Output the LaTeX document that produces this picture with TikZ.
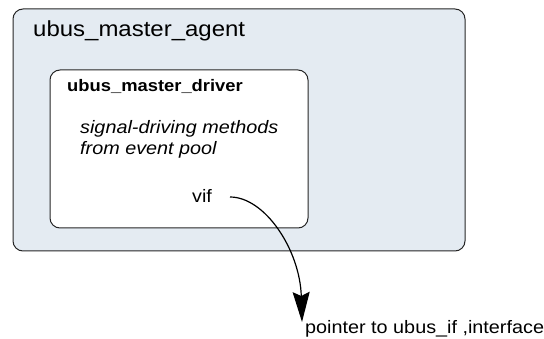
\documentclass[tikz,border=0pt]{standalone}
\usepackage{fontspec}
\setmainfont{Liberation Sans}[FakeStretch=1.1]
\usepackage{tikz}
\usetikzlibrary{arrows.meta}
\definecolor{agentblue}{RGB}{228,235,242}
\tikzset{
  box/.style={draw=black!85, line width=1pt, rounded corners=10pt},
  lbl/.style={anchor=base west, inner sep=0pt},
  body/.style={lbl, font=\fontsize{18}{21}\selectfont},
}

\begin{document}
\begin{tikzpicture}[x=1pt, y=-1pt]
            \useasboundingbox (0,0) rectangle (544,339);
            \draw[box, fill=agentblue] (13,9) rectangle (465,251);
            \draw[box, fill=white] (50,70) rectangle (308,228);
            \node[lbl, font=\fontsize{21.8}{26}\selectfont] (agent) at (33,37) {ubus\_master\_agent};
            \node[lbl, font=\fontsize{16.7}{20}\selectfont\bfseries] (driver) at (67,92) {ubus\_master\_driver};
            \node[body, font=\fontsize{18}{21}\selectfont\itshape] (methods) at (80,134) {signal-driving methods};
            \node[body, font=\fontsize{18}{21}\selectfont\itshape] (pool) at (80,155) {from event pool};
            \node[body] (vif) at (192,203) {vif};
            \node[body] (ptr) at (305,334) {pointer to ubus\_if ,interface};
            %\draw[red] (vif.east) -- (ptr.north west);
            \coordinate (vifout) at (230,197);
            \coordinate (tip) at (302,322);
            \draw[line width=1.2pt, -{Stealth[length=30pt, width=17pt, inset=4pt]}]
              (vifout) .. controls +(35,0) and +(-2,-72) .. (tip);
        \end{tikzpicture}
\end{document}
